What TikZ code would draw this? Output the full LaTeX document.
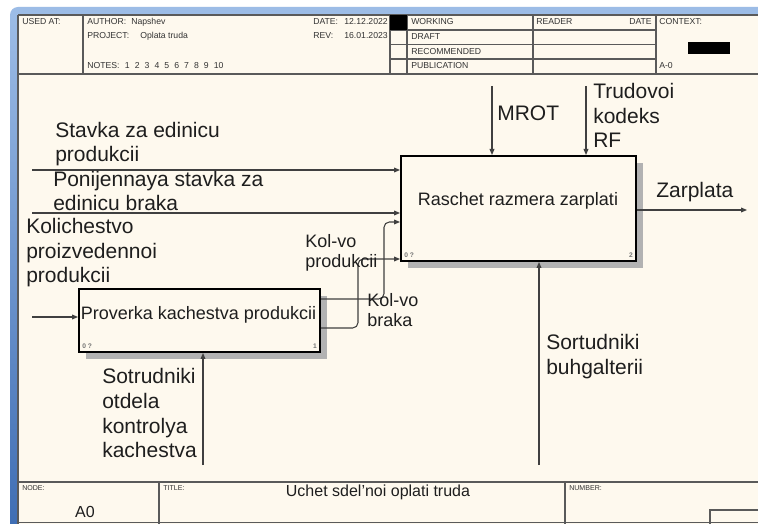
\documentclass[tikz,border=0pt]{standalone}
\usepackage{fontspec}
\setmainfont{Liberation Sans}
\usetikzlibrary{arrows.meta,shadows}
\definecolor{cream}{HTML}{FEF9EE}
\definecolor{framelight}{HTML}{9CBCE6}
\definecolor{framedark}{HTML}{3E6DB3}
\definecolor{txt}{HTML}{1E1E1E}
\definecolor{linec}{HTML}{404040}
\definecolor{hdrline}{HTML}{5A5A5A}
\definecolor{hdrtxt}{HTML}{333333}
\begin{document}
\begin{tikzpicture}[x=0.75pt,y=-0.75pt,
  frameline/.style={draw=hdrline,line width=0.8pt},
  hdr/.style={font=\fontsize{6.5}{7}\selectfont,anchor=base west,inner sep=0pt,text=hdrtxt},
  tiny/.style={font=\fontsize{5.3}{6}\selectfont,anchor=base west,inner sep=0pt,text=hdrtxt},
  foot/.style={font=\fontsize{12}{14}\selectfont,inner sep=0pt,text=txt},
  box/.style={draw=black,line width=1.5pt,fill=cream,inner sep=0pt,
    drop shadow={shadow xshift=5pt,shadow yshift=-5pt,fill=black!30,opacity=1}},
  boxtxt/.style={font=\fontsize{13.5}{16}\selectfont,inner sep=0pt,text=txt},
  corner/.style={font=\bfseries\fontsize{5}{5.5}\selectfont,inner sep=0pt,text=black!55},
  lbl/.style={font=\fontsize{15.75}{18.5}\selectfont,align=left,anchor=base west,inner sep=0pt,text=txt},
  lbls/.style={font=\fontsize{13.5}{15.4}\selectfont,align=left,anchor=base west,inner sep=0pt,text=txt},
  arr/.style={draw=linec,line width=0.8pt,-{Triangle[length=4.5pt,width=3.6pt]}},
  plain/.style={draw=linec,line width=0.8pt}]
\useasboundingbox (0,0) rectangle (758,524);
\clip (0,0) rectangle (758,524);
% window frame and page
\fill[white] (0,0) rectangle (758,524);
\fill[framelight,rounded corners=6pt] (10,7) rectangle (800,560);
\shade[top color=framelight,bottom color=framedark] (10,15) rectangle (18,530);
\fill[cream] (18,15) rectangle (800,560);
% frame lines
\draw[frameline] (18,15) -- (800,15);
\draw[frameline] (18,15) -- (18,560);
\draw[frameline] (18,74) -- (800,74);
\draw[frameline] (18,482) -- (800,482);
\draw[frameline] (18,522.5) -- (800,522.5);
% header grid
\foreach \xx in {83,390,407,533,656} \draw[frameline] (\xx,15) -- (\xx,74);
\foreach \yy in {30,44.5,59} \draw[frameline] (390,\yy) -- (656,\yy);
\fill[black] (390,15) rectangle (407,30);
\fill[black] (688,42) rectangle (730,54);
% footer grid
\draw[frameline] (159,482) -- (159,524);
\draw[frameline] (565,482) -- (565,524);
\draw[frameline] (710,524) -- (710,510) -- (800,510);
% header texts
\node[hdr] (usedat) at (22,25) {USED AT:};
\node[hdr] (author) at (87,25) {AUTHOR:};
\node[hdr] (authorv) at (131,25) {Napshev};
\node[hdr] (project) at (87,39) {PROJECT:};
\node[hdr] (projectv) at (140,39) {Oplata truda};
\node[hdr] (notes) at (87,69) {NOTES:\hspace{4pt}1\hspace{3.8pt}2\hspace{3.8pt}3\hspace{3.8pt}4\hspace{3.8pt}5\hspace{3.8pt}6\hspace{3.8pt}7\hspace{3.8pt}8\hspace{3.8pt}9\hspace{3.8pt}10};
\node[hdr] (date) at (313,25) {DATE:};
\node[hdr,anchor=base east] (datev) at (388,25) {12.12.2022};
\node[hdr] (rev) at (313,39) {REV:};
\node[hdr,anchor=base east] (revv) at (388,39) {16.01.2023};
\node[hdr] (working) at (411,25) {WORKING};
\node[hdr] (draft) at (411,40) {DRAFT};
\node[hdr] (recom) at (411,54.5) {RECOMMENDED};
\node[hdr] (publ) at (411,69) {PUBLICATION};
\node[hdr] (reader) at (536,25) {READER};
\node[hdr,anchor=base east] (rdate) at (652,25) {DATE};
\node[hdr] (context) at (659,25) {CONTEXT:};
\node[hdr] (a0ctx) at (659,69) {A-0};
% footer texts
\node[tiny] (nodel) at (22,490) {NODE:};
\node[tiny] (titlel) at (163,490) {TITLE:};
\node[tiny] (numberl) at (569,490) {NUMBER:};
\node[foot] (nodev) at (85,512) {A0};
\node[foot] (titlev) at (378,492) {Uchet sdel'noi oplati truda};
% boxes
\node[box,minimum width=235*0.75pt,minimum height=105*0.75pt] (b2) at (518.5,208.5) {};
\node[box,minimum width=241*0.75pt,minimum height=63*0.75pt] (b1) at (199.5,320.5) {};
\node[boxtxt] (b2t) at (518,201) {Raschet razmera zarplati};
\node[boxtxt] (b1t) at (198.5,315) {Proverka kachestva produkcii};
\node[corner,anchor=base west] (b2c0) at (404,258) {0 ?};
\node[corner,anchor=base east] (b2c2) at (633,258) {2};
\node[corner,anchor=base west] (b1c0) at (82,349) {0 ?};
\node[corner,anchor=base east] (b1c1) at (317,349) {1};
% free ends and bends
\coordinate (s1) at (32,170);
\coordinate (s2) at (32,213);
\coordinate (s3) at (32,317);
\coordinate (m1) at (492,86);
\coordinate (m2) at (586,86);
\coordinate (z1) at (747,210);
\coordinate (m3) at (539,465);
\coordinate (m4) at (203,465);
\coordinate (kbB) at (384,299);
\coordinate (kbT) at (384,222);
\coordinate (kpB) at (358,328);
\coordinate (kpT) at (358,259);
% connectors
\draw[arr] (s1) -- (s1 -| b2.west);
\draw[arr] (s2) -- (s2 -| b2.west);
\draw[arr] (s3) -- (s3 -| b1.west);
\draw[arr] (m1) -- (m1 |- b2.north);
\draw[arr] (m2) -- (m2 |- b2.north);
\draw[arr] (z1 -| b2.east) -- (z1);
\draw[arr] (m3) -- (m3 |- b2.south);
\draw[arr] (m4) -- (m4 |- b1.south);
\draw[arr,rounded corners=4pt] (kbB -| b1.east) -- (kbB) -- (kbT) -- (kbT -| b2.west);
\draw[arr,rounded corners=4pt] (kpB -| b1.east) -- (kpB) -- (kpT) -- (kpT -| b2.west);
% labels (anchor = baseline of last line)
\node[lbl] (lStavka) at (55,162) {Stavka za edinicu\\produkcii};
\node[lbl] (lPonij) at (53,211) {Ponijennaya stavka za\\edinicu braka};
\node[lbl] (lKolich) at (26,283) {Kolichestvo\\proizvedennoi\\produkcii};
\node[lbls] (lKvp) at (305,268) {Kol-vo\\produkcii};
\node[lbls] (lKvb) at (367,327) {Kol-vo\\braka};
\node[lbl] (lMROT) at (497,121) {MROT};
\node[lbl] (lTrud) at (593,148) {Trudovoi\\kodeks\\RF};
\node[lbl] (lZarp) at (656,198) {Zarplata};
\node[lbl] (lSort) at (546,374) {Sortudniki\\buhgalterii};
\node[lbl] (lSotr) at (102,458) {Sotrudniki\\otdela\\kontrolya\\kachestva};
\end{tikzpicture}
\end{document}
